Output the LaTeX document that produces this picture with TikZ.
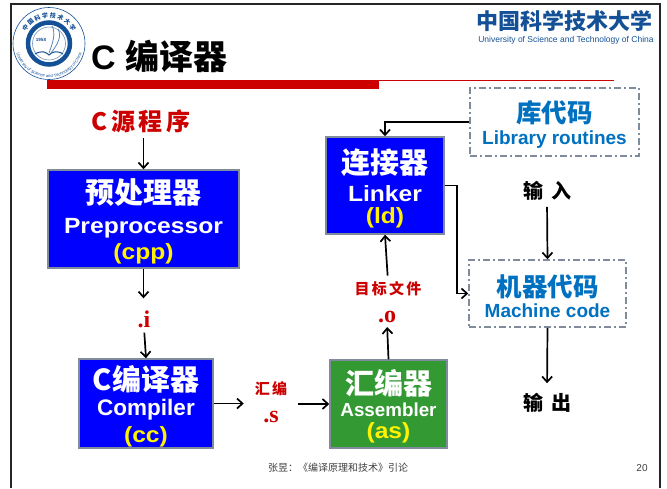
\documentclass[tikz,border=0pt]{standalone}
\usepackage{fontspec}
\setmainfont{Liberation Sans}
\newfontfamily\cjkfont{Noto Sans CJK SC}
\newfontfamily\cjkspaced{Noto Sans CJK SC}[LetterSpace=15]
\newfontfamily\serifont{Liberation Serif}
\newfontfamily\widefont{Liberation Sans}[FakeStretch=1.12]
\usetikzlibrary{arrows,arrows.meta}
\usetikzlibrary{calc,decorations.text}
\definecolor{pfeil}{RGB}{0,0,0}
\definecolor{usctc}{RGB}{20,80,150}
\definecolor{titelrot}{RGB}{204,0,0}
\definecolor{blockblau}{RGB}{0,0,255}
\definecolor{blockgruen}{RGB}{51,153,51}
\definecolor{rand}{RGB}{128,140,155}
\definecolor{codeblau}{RGB}{0,112,192}
\newcommand{\blockText}[4][10pt]{\fontsize{29}{31}\selectfont\cjkfont\bfseries\rule{0pt}{30pt}#2\\[#1]\fontsize{22}{26}\selectfont\widefont\bfseries #3\\[5pt]\fontsize{22}{25}\selectfont\widefont\bfseries\color{yellow}#4}
\newcommand{\plainLatin}[1]{\fontsize{#1}{26}\selectfont\rmfamily\bfseries}
\newcommand{\codeText}[2]{\fontsize{25.5}{33}\selectfont\cjkfont\bfseries\rule{0pt}{27pt}#1\\[4pt]\fontsize{19}{21}\selectfont\rmfamily\bfseries #2}
\tikzset{
  blockBox/.style={draw=rand, line width=1.5pt, fill=blockblau, text=white, align=center, inner sep=0pt},
  codeBox/.style={draw=rand, line width=1.5pt, dash pattern=on 7pt off 3pt on 2pt off 3pt, text=codeblau, align=center, inner sep=0pt},
  redLabel/.style={text=titelrot, inner sep=0pt, font=\cjkspaced\bfseries\fontsize{15}{18}\selectfont},
  dotLabel/.style={text=titelrot, inner sep=0pt, font=\serifont\bfseries\fontsize{24}{26}\selectfont},
  ioLabel/.style={text=black, inner sep=0pt, font=\cjkfont\bfseries\fontsize{20}{24}\selectfont},
  flow/.style={->, line width=1.7pt, pfeil},
}

\begin{document}
\begin{tikzpicture}[x=1pt, y=-1pt, >={Straight Barb[length=5.5pt,width=10pt]}]
    \useasboundingbox (0,0) rectangle (667,488);

    % frame
    \draw[line width=2.5pt, black!85] (11,488) -- (11,4) -- (660,4) -- (660,488);

    % logo
    \draw[usctc, line width=0.6pt, fill=white] (49,43.5) circle (36);
    \draw[usctc, line width=4.5pt] (49,43.5) circle (21);
    \draw[usctc!60, line width=0.6pt] (49,43.5) circle (16.5);
    \node[text=usctc, inner sep=0pt, font=\bfseries\fontsize{4.5}{5}\selectfont] (logoYear) at (41,40) {1958};
    \draw[usctc, line width=1pt] (35,54) .. controls (42,50) and (46,52) .. (49,55) .. controls (52,52) and (57,50) .. (63,54);
    \draw[usctc!70, line width=0.8pt] (49,53) .. controls (53,42) and (56,33) .. (52,26);
    \draw[usctc!70, line width=0.8pt] (51,53) .. controls (58,44) and (62,36) .. (58,29);
    \path[decorate, decoration={text along path, text align=center, text color=usctc,
        text={|\cjkfont\bfseries\fontsize{6}{7}\selectfont|中 国 科 学 技 术 大 学}}]
        (23,43.5) arc[start angle=180, end angle=360, radius=26];
    \path[decorate, decoration={text along path, text align=center, text color=usctc,
        text={|\fontsize{4.2}{5}\selectfont|University of Science and Technology of China}}]
        (15,43.5) arc[start angle=180, end angle=0, radius=34];

    % header
    \node[anchor=west, inner sep=0pt, font=\fontsize{34}{38}\selectfont\bfseries] (titleText) at (91,56) {C {\cjkfont 编译器}};
    \fill[titelrot] (47,80) rectangle (379,89);
    \draw[titelrot, line width=0.8pt] (379,80.5) -- (614,80.5);
    \node[text=usctc, inner sep=0pt, font=\cjkfont\bfseries\fontsize{22}{26}\selectfont] (schoolText) at (564,21) {中国科学技术大学};
    \node[text=usctc, inner sep=0pt, font=\fontsize{8.5}{10}\selectfont] (schoolEn) at (566,40) {University of Science and Technology of China};

    % blocks
    \node[blockBox, minimum width=191pt, minimum height=98pt] (cppBox) at (143.5,219) {\blockText{预处理器}{Preprocessor}{(cpp)}};
    \node[blockBox, minimum width=134pt, minimum height=89pt] (ccBox) at (146,403.5) {\blockText[5pt]{C编译器}{\plainLatin{22.5}Compiler}{(cc)}};
    \node[blockBox, fill=blockgruen, minimum width=117pt, minimum height=88pt] (asBox) at (388.5,404) {\blockText[4pt]{汇编器}{\plainLatin{18.8}Assembler}{(as)}};
    \node[blockBox, minimum width=118pt, minimum height=97pt] (ldBox) at (385,185.5) {\blockText[8pt]{连接器}{Linker}{(ld)}};
    \node[codeBox, minimum width=169pt, minimum height=68pt] (libBox) at (554.5,122) {\codeText{库代码}{Library routines}};
    \node[codeBox, minimum width=157pt, minimum height=67pt] (mcBox) at (547.5,293.5) {\codeText{机器代码}{Machine code}};

    % labels
    \node[redLabel, font=\cjkspaced\bfseries\fontsize{24}{28}\selectfont] (srcLabel) at (141,121) {C源程序};
    \node[dotLabel] (iLabel) at (144,319) {.i};
    \node[redLabel] (asmLabel) at (271,389) {汇编};
    \node[dotLabel] (sLabel) at (271,417) {.s};
    \node[redLabel] (objLabel) at (388,289) {目标文件};
    \node[dotLabel] (oLabel) at (387,317) {.o};
    \node[ioLabel] (inLabel) at (547,191) {输\hspace{8pt}入};
    \node[ioLabel] (outLabel) at (547,403) {输\hspace{8pt}出};

    % flows
    \draw[flow] (srcLabel.south -| cppBox.north) ++(0,5) -- (cppBox.north);
    \draw[flow, shorten >=2pt] (cppBox.south) -- ($(iLabel.north -| cppBox.south)+(0,-10)$);
    \draw[flow, shorten <=5pt] (iLabel.south) -- (ccBox.north);
    \draw[flow] (ccBox.east) -- ++(30,0);
    \draw[flow] (298,404) -- (asBox.west);
    \draw[flow, shorten >=4pt] (asBox.north) -- (oLabel.south);
    \draw[flow, shorten <=6pt] (objLabel.north) -- (ldBox.south);
    \draw[flow] (libBox.west) -| (ldBox.north);
    \draw[flow] (ldBox.east) -- ++(12,0) |- (mcBox.west);
    \draw[flow, shorten <=6pt] (inLabel.south) -- (mcBox.north);
    \draw[flow, shorten >=10pt] (mcBox.south) -- (outLabel.north);

    % footer
    \node[text=black!75, inner sep=0pt, font=\cjkfont\fontsize{10}{12}\selectfont] (footText) at (338,468) {张昱：《编译原理和技术》引论};
    \node[text=black!75, inner sep=0pt, font=\fontsize{10}{12}\selectfont] (pageText) at (642,468) {20};

\end{tikzpicture}
\end{document}
